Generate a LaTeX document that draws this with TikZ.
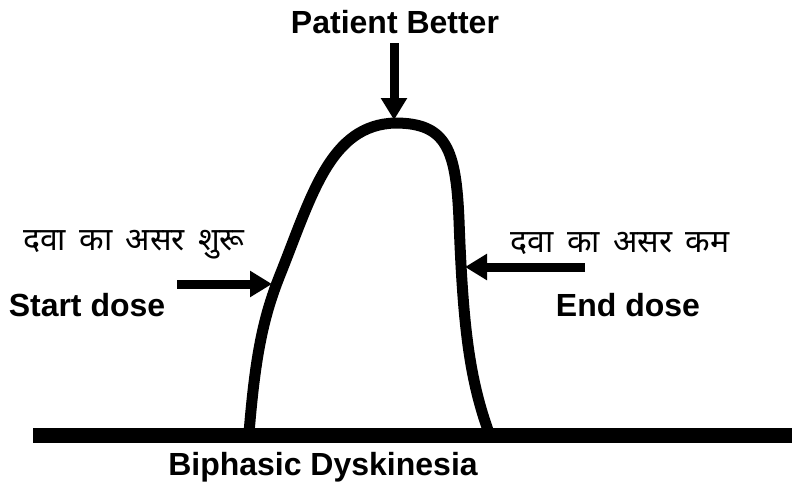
\documentclass[tikz,border=0pt]{standalone}
\usepackage{fontspec}
\setmainfont{Liberation Sans}
\newfontfamily\deva[Script=Devanagari,WordSpace=1.6]{Noto Sans}
\usetikzlibrary{arrows.meta}
\begin{document}
\begin{tikzpicture}[x=1pt,y=-1pt,
  lbl/.style={font=\fontsize{32}{34}\selectfont\bfseries, inner sep=0pt},
  hin/.style={font=\deva\fontsize{32}{34}\selectfont, inner sep=0pt},
  bigarrow/.style={line width=9pt, -{Triangle[length=22pt,width=25pt]}},
  curve/.style={line width=11pt}]
\useasboundingbox (0,0) rectangle (793,488);
\fill[black] (33,428) rectangle (792,443);
\draw[curve] (249,433) .. controls (255,360) and (262,320) .. (280,275)
  .. controls (312,195) and (330,125) .. (395,123)
  .. controls (447,123) and (456,150) .. (459,220)
  .. controls (463,330) and (470,380) .. (489,433);
\node[lbl] (pb) at (395,22) {Patient Better};
\node[lbl] (sd) at (87,305) {Start dose};
\node[lbl] (ed) at (628,305) {End dose};
\node[lbl] (bd) at (323,467) {Biphasic Dyskinesia};
\node[hin] (h1) at (134,245) {दवा का असर शुरू};
\node[hin] (h2) at (620,243) {दवा का असर कम};
\coordinate (t1s) at (394,43); \coordinate (t1e) at (394,120);
\coordinate (t2s) at (177,284); \coordinate (t2e) at (272,284);
\coordinate (t3s) at (585,267); \coordinate (t3e) at (465,267);
\draw[bigarrow] (t1s) -- (t1e);
\draw[bigarrow] (t2s) -- (t2e);
\draw[bigarrow] (t3s) -- (t3e);
\end{tikzpicture}
\end{document}
